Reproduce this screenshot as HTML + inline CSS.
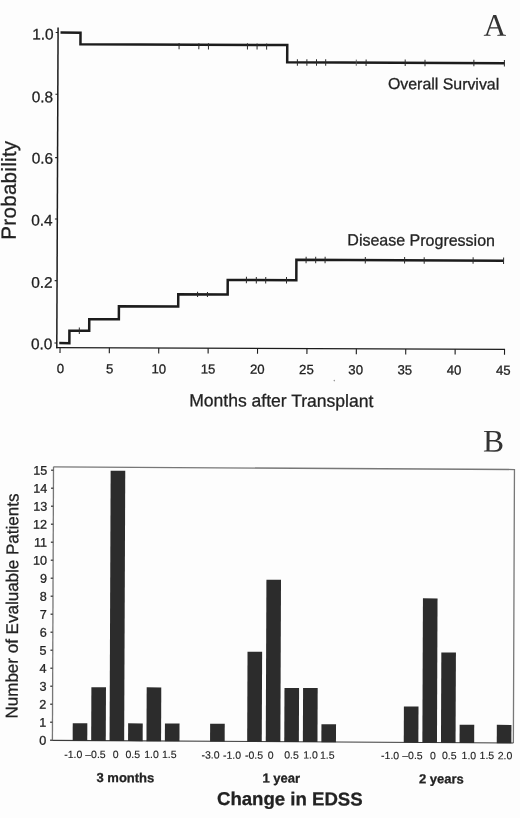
<!DOCTYPE html>
<html>
<head>
<meta charset="utf-8">
<title>Figure</title>
<style>
html,body{margin:0;padding:0;background:#fdfdfd;}
body{width:520px;height:818px;overflow:hidden;font-family:"Liberation Sans",sans-serif;}
svg{display:block;filter:grayscale(1) blur(0.35px);}
svg text{font-family:"Liberation Sans",sans-serif;stroke:#222;stroke-width:0.28px;}
svg text.sm{stroke-width:0.12px;}
svg text.sf{font-family:"Liberation Serif",serif;stroke:none;}
</style>
</head>
<body>
<svg width="520" height="818" viewBox="0 0 520 818">
<rect x="0" y="0" width="520" height="818" fill="#fdfdfd"/>
<g transform="rotate(0.23 260.0 409.0)">
<line x1="56.55" y1="28.2" x2="56.55" y2="349.09999999999997" stroke="#1c1c1c" stroke-width="1.5"/>
<line x1="55.849999999999994" y1="348.4" x2="504.8" y2="348.4" stroke="#1c1c1c" stroke-width="1.4"/>
<line x1="59.8" y1="348.4" x2="59.8" y2="353.8" stroke="#1c1c1c" stroke-width="1.1"/>
<line x1="109.1" y1="348.4" x2="109.1" y2="353.8" stroke="#1c1c1c" stroke-width="1.1"/>
<line x1="158.5" y1="348.4" x2="158.5" y2="353.8" stroke="#1c1c1c" stroke-width="1.1"/>
<line x1="207.9" y1="348.4" x2="207.9" y2="353.8" stroke="#1c1c1c" stroke-width="1.1"/>
<line x1="257.3" y1="348.4" x2="257.3" y2="353.8" stroke="#1c1c1c" stroke-width="1.1"/>
<line x1="306.7" y1="348.4" x2="306.7" y2="353.8" stroke="#1c1c1c" stroke-width="1.1"/>
<line x1="356.1" y1="348.4" x2="356.1" y2="353.8" stroke="#1c1c1c" stroke-width="1.1"/>
<line x1="405.5" y1="348.4" x2="405.5" y2="353.8" stroke="#1c1c1c" stroke-width="1.1"/>
<line x1="454.9" y1="348.4" x2="454.9" y2="353.8" stroke="#1c1c1c" stroke-width="1.1"/>
<line x1="504.3" y1="348.4" x2="504.3" y2="353.8" stroke="#1c1c1c" stroke-width="1.1"/>
<line x1="54.2" y1="343.8" x2="56.5" y2="343.8" stroke="#1c1c1c" stroke-width="1.1"/>
<line x1="54.2" y1="281.5" x2="56.5" y2="281.5" stroke="#1c1c1c" stroke-width="1.1"/>
<line x1="54.2" y1="219.8" x2="56.5" y2="219.8" stroke="#1c1c1c" stroke-width="1.1"/>
<line x1="54.2" y1="158.4" x2="56.5" y2="158.4" stroke="#1c1c1c" stroke-width="1.1"/>
<line x1="54.2" y1="95.1" x2="56.5" y2="95.1" stroke="#1c1c1c" stroke-width="1.1"/>
<line x1="54.2" y1="33.3" x2="56.5" y2="33.3" stroke="#1c1c1c" stroke-width="1.1"/>
<text x="52.2" y="350.1" font-size="15.4" text-anchor="end" fill="#222">0.0</text>
<text x="52.2" y="288.7" font-size="15.4" text-anchor="end" fill="#222">0.2</text>
<text x="51.9" y="226.3" font-size="15.4" text-anchor="end" fill="#222">0.4</text>
<text x="52.1" y="164.5" font-size="15.4" text-anchor="end" fill="#222">0.6</text>
<text x="51.9" y="103.1" font-size="15.4" text-anchor="end" fill="#222">0.8</text>
<text x="52.1" y="40.4" font-size="15.4" text-anchor="end" fill="#222">1.0</text>
<text x="60.4" y="373.8" font-size="13.2" text-anchor="middle" fill="#222">0</text>
<text x="109.5" y="373.8" font-size="13.2" text-anchor="middle" fill="#222">5</text>
<text x="158.7" y="373.8" font-size="13.2" text-anchor="middle" fill="#222">10</text>
<text x="207.9" y="373.8" font-size="13.2" text-anchor="middle" fill="#222">15</text>
<text x="257.1" y="373.8" font-size="13.2" text-anchor="middle" fill="#222">20</text>
<text x="306.3" y="373.8" font-size="13.2" text-anchor="middle" fill="#222">25</text>
<text x="355.5" y="373.8" font-size="13.2" text-anchor="middle" fill="#222">30</text>
<text x="404.7" y="373.8" font-size="13.2" text-anchor="middle" fill="#222">35</text>
<text x="453.9" y="373.8" font-size="13.2" text-anchor="middle" fill="#222">40</text>
<text x="503.1" y="373.8" font-size="13.2" text-anchor="middle" fill="#222">45</text>
<text x="281.3" y="406.5" font-size="17.55" text-anchor="middle" fill="#222">Months after Transplant</text>
<text transform="translate(15.0,191.1) rotate(-90)" font-size="20.6" letter-spacing="0.27" text-anchor="middle" fill="#222">Probability</text>
<text x="442.3" y="88.6" font-size="15.9" text-anchor="middle" fill="#222">Overall Survival</text>
<text x="420.5" y="245.0" font-size="16.0" text-anchor="middle" fill="#222">Disease Progression</text>
<text x="493.3" y="34.9" font-size="31.5" text-anchor="middle" fill="#333" class="sf">A</text>
<path d="M59.0,33.4 H79.0 V45.0 H285.8 V62.2 H503.3" fill="none" stroke="#1c1c1c" stroke-width="2.5" stroke-linejoin="miter"/>
<path d="M59.0,343.9 H69.1 V331.4 H88.9 V319.9 H118.5 V306.9 H177.8 V294.6 H227.2 V280.1 H295.8 V259.7 H503.0" fill="none" stroke="#1c1c1c" stroke-width="2.5" stroke-linejoin="miter"/>
<line x1="177.6" y1="43.4" x2="177.6" y2="49.6" stroke="#2a2a2a" stroke-width="1.0"/>
<line x1="197.4" y1="43.4" x2="197.4" y2="49.6" stroke="#2a2a2a" stroke-width="1.0"/>
<line x1="207.0" y1="43.4" x2="207.0" y2="49.6" stroke="#2a2a2a" stroke-width="1.0"/>
<line x1="246.0" y1="43.4" x2="246.0" y2="49.6" stroke="#2a2a2a" stroke-width="1.0"/>
<line x1="255.6" y1="43.4" x2="255.6" y2="49.6" stroke="#2a2a2a" stroke-width="1.0"/>
<line x1="265.2" y1="43.4" x2="265.2" y2="49.6" stroke="#2a2a2a" stroke-width="1.0"/>
<line x1="296.0" y1="59.0" x2="296.0" y2="65.5" stroke="#2a2a2a" stroke-width="1.0"/>
<line x1="305.5" y1="59.0" x2="305.5" y2="65.5" stroke="#2a2a2a" stroke-width="1.0"/>
<line x1="315.1" y1="59.0" x2="315.1" y2="65.5" stroke="#2a2a2a" stroke-width="1.0"/>
<line x1="324.3" y1="59.0" x2="324.3" y2="65.5" stroke="#2a2a2a" stroke-width="1.0"/>
<line x1="364.7" y1="59.0" x2="364.7" y2="65.5" stroke="#2a2a2a" stroke-width="1.0"/>
<line x1="403.8" y1="59.0" x2="403.8" y2="65.5" stroke="#2a2a2a" stroke-width="1.0"/>
<line x1="423.6" y1="59.0" x2="423.6" y2="65.5" stroke="#2a2a2a" stroke-width="1.0"/>
<line x1="472.5" y1="59.0" x2="472.5" y2="65.5" stroke="#2a2a2a" stroke-width="1.0"/>
<line x1="503.0" y1="59.0" x2="503.0" y2="65.5" stroke="#2a2a2a" stroke-width="1.0"/>
<line x1="79.0" y1="328.2" x2="79.0" y2="334.7" stroke="#2a2a2a" stroke-width="1.0"/>
<line x1="197.1" y1="292.1" x2="197.1" y2="297.2" stroke="#2a2a2a" stroke-width="1.0"/>
<line x1="207.0" y1="292.1" x2="207.0" y2="297.2" stroke="#2a2a2a" stroke-width="1.0"/>
<line x1="245.9" y1="276.9" x2="245.9" y2="283.4" stroke="#2a2a2a" stroke-width="1.0"/>
<line x1="255.8" y1="276.9" x2="255.8" y2="283.4" stroke="#2a2a2a" stroke-width="1.0"/>
<line x1="265.2" y1="276.9" x2="265.2" y2="283.4" stroke="#2a2a2a" stroke-width="1.0"/>
<line x1="286.0" y1="276.9" x2="286.0" y2="283.4" stroke="#2a2a2a" stroke-width="1.0"/>
<line x1="305.5" y1="256.5" x2="305.5" y2="263.0" stroke="#2a2a2a" stroke-width="1.0"/>
<line x1="315.1" y1="256.5" x2="315.1" y2="263.0" stroke="#2a2a2a" stroke-width="1.0"/>
<line x1="324.5" y1="256.5" x2="324.5" y2="263.0" stroke="#2a2a2a" stroke-width="1.0"/>
<line x1="364.7" y1="256.5" x2="364.7" y2="263.0" stroke="#2a2a2a" stroke-width="1.0"/>
<line x1="404.0" y1="256.5" x2="404.0" y2="263.0" stroke="#2a2a2a" stroke-width="1.0"/>
<line x1="423.6" y1="256.5" x2="423.6" y2="263.0" stroke="#2a2a2a" stroke-width="1.0"/>
<line x1="472.5" y1="256.5" x2="472.5" y2="263.0" stroke="#2a2a2a" stroke-width="1.0"/>
<line x1="503.0" y1="256.5" x2="503.0" y2="263.0" stroke="#2a2a2a" stroke-width="1.0"/>
<line x1="354.9" y1="59.2" x2="354.9" y2="65.4" stroke="#555" stroke-width="0.9"/>
<circle cx="334.2" cy="380.3" r="0.8" fill="#9a9a9a"/>
<polyline points="53.75,467.7 514.7,468.5 514.7,742.0" fill="none" stroke="#777" stroke-width="1.3"/>
<line x1="53.25" y1="741.2" x2="514.7" y2="742.0" stroke="#3c3c3c" stroke-width="1.1"/>
<line x1="53.75" y1="467.7" x2="53.75" y2="741.2" stroke="#777" stroke-width="1.3"/>
<line x1="51.4" y1="741.1" x2="53.8" y2="741.1" stroke="#555" stroke-width="1.3"/>
<text x="47.6" y="745.6" font-size="12.6" text-anchor="end" fill="#222">0</text>
<line x1="51.4" y1="723.1" x2="53.8" y2="723.1" stroke="#555" stroke-width="1.3"/>
<text x="47.6" y="727.6" font-size="12.6" text-anchor="end" fill="#222">1</text>
<line x1="51.4" y1="705.1" x2="53.8" y2="705.1" stroke="#555" stroke-width="1.3"/>
<text x="47.6" y="709.6" font-size="12.6" text-anchor="end" fill="#222">2</text>
<line x1="51.4" y1="687.1" x2="53.8" y2="687.1" stroke="#555" stroke-width="1.3"/>
<text x="47.6" y="691.6" font-size="12.6" text-anchor="end" fill="#222">3</text>
<line x1="51.4" y1="669.1" x2="53.8" y2="669.1" stroke="#555" stroke-width="1.3"/>
<text x="47.6" y="673.6" font-size="12.6" text-anchor="end" fill="#222">4</text>
<line x1="51.4" y1="651.1" x2="53.8" y2="651.1" stroke="#555" stroke-width="1.3"/>
<text x="47.6" y="655.6" font-size="12.6" text-anchor="end" fill="#222">5</text>
<line x1="51.4" y1="633.1" x2="53.8" y2="633.1" stroke="#555" stroke-width="1.3"/>
<text x="47.6" y="637.6" font-size="12.6" text-anchor="end" fill="#222">6</text>
<line x1="51.4" y1="615.1" x2="53.8" y2="615.1" stroke="#555" stroke-width="1.3"/>
<text x="47.6" y="619.6" font-size="12.6" text-anchor="end" fill="#222">7</text>
<line x1="51.4" y1="597.1" x2="53.8" y2="597.1" stroke="#555" stroke-width="1.3"/>
<text x="47.6" y="601.6" font-size="12.6" text-anchor="end" fill="#222">8</text>
<line x1="51.4" y1="579.1" x2="53.8" y2="579.1" stroke="#555" stroke-width="1.3"/>
<text x="47.6" y="583.6" font-size="12.6" text-anchor="end" fill="#222">9</text>
<line x1="51.4" y1="561.1" x2="53.8" y2="561.1" stroke="#555" stroke-width="1.3"/>
<text x="47.6" y="565.6" font-size="12.6" text-anchor="end" fill="#222">10</text>
<line x1="51.4" y1="543.1" x2="53.8" y2="543.1" stroke="#555" stroke-width="1.3"/>
<text x="47.6" y="547.6" font-size="12.6" text-anchor="end" fill="#222">11</text>
<line x1="51.4" y1="525.1" x2="53.8" y2="525.1" stroke="#555" stroke-width="1.3"/>
<text x="47.6" y="529.6" font-size="12.6" text-anchor="end" fill="#222">12</text>
<line x1="51.4" y1="507.1" x2="53.8" y2="507.1" stroke="#555" stroke-width="1.3"/>
<text x="47.6" y="511.6" font-size="12.6" text-anchor="end" fill="#222">13</text>
<line x1="51.4" y1="489.1" x2="53.8" y2="489.1" stroke="#555" stroke-width="1.3"/>
<text x="47.6" y="493.6" font-size="12.6" text-anchor="end" fill="#222">14</text>
<line x1="51.4" y1="471.1" x2="53.8" y2="471.1" stroke="#555" stroke-width="1.3"/>
<text x="47.6" y="475.6" font-size="12.6" text-anchor="end" fill="#222">15</text>
<rect x="74.0" y="723.9" width="14.6" height="17.6" fill="#2c2c2c"/>
<rect x="92.5" y="687.8" width="14.6" height="53.7" fill="#2c2c2c"/>
<rect x="110.9" y="471.4" width="14.6" height="270.1" fill="#2c2c2c"/>
<rect x="129.4" y="723.9" width="14.6" height="17.7" fill="#2c2c2c"/>
<rect x="147.8" y="687.8" width="14.6" height="53.8" fill="#2c2c2c"/>
<rect x="166.2" y="723.9" width="14.6" height="17.7" fill="#2c2c2c"/>
<rect x="211.4" y="723.9" width="14.6" height="17.8" fill="#2c2c2c"/>
<rect x="248.5" y="651.8" width="14.6" height="90.0" fill="#2c2c2c"/>
<rect x="267.1" y="579.6" width="14.6" height="162.2" fill="#2c2c2c"/>
<rect x="285.6" y="687.8" width="14.6" height="54.0" fill="#2c2c2c"/>
<rect x="304.2" y="687.8" width="14.6" height="54.0" fill="#2c2c2c"/>
<rect x="322.7" y="723.9" width="14.6" height="18.0" fill="#2c2c2c"/>
<rect x="405.1" y="705.8" width="14.6" height="36.2" fill="#2c2c2c"/>
<rect x="423.7" y="597.7" width="14.6" height="144.4" fill="#2c2c2c"/>
<rect x="442.3" y="651.8" width="14.6" height="90.3" fill="#2c2c2c"/>
<rect x="460.9" y="723.9" width="14.6" height="18.2" fill="#2c2c2c"/>
<rect x="498.1" y="723.9" width="14.6" height="18.3" fill="#2c2c2c"/>
<text x="74.7" y="758.8" font-size="10.5" text-anchor="middle" fill="#222" class="sm">-1.0</text>
<text x="96.9" y="758.7" font-size="10.5" text-anchor="middle" fill="#222" class="sm">–0.5</text>
<text x="117.1" y="758.6" font-size="10.5" text-anchor="middle" fill="#222" class="sm">0</text>
<text x="134.2" y="758.6" font-size="10.5" text-anchor="middle" fill="#222" class="sm">0.5</text>
<text x="152.9" y="758.5" font-size="10.5" text-anchor="middle" fill="#222" class="sm">1.0</text>
<text x="170.7" y="758.4" font-size="10.5" text-anchor="middle" fill="#222" class="sm">1.5</text>
<text x="211.9" y="758.8" font-size="10.5" text-anchor="middle" fill="#222" class="sm">-3.0</text>
<text x="233.4" y="758.8" font-size="10.5" text-anchor="middle" fill="#222" class="sm">-1.0</text>
<text x="255.4" y="758.7" font-size="10.5" text-anchor="middle" fill="#222" class="sm">-0.5</text>
<text x="272.2" y="758.6" font-size="10.5" text-anchor="middle" fill="#222" class="sm">0</text>
<text x="292.9" y="758.5" font-size="10.5" text-anchor="middle" fill="#222" class="sm">0.5</text>
<text x="311.9" y="758.4" font-size="10.5" text-anchor="middle" fill="#222" class="sm">1.0</text>
<text x="328.7" y="758.4" font-size="10.5" text-anchor="middle" fill="#222" class="sm">1.5</text>
<text x="391.5" y="758.6" font-size="10.5" text-anchor="middle" fill="#222" class="sm">-1.0</text>
<text x="413.9" y="758.5" font-size="10.5" text-anchor="middle" fill="#222" class="sm">–0.5</text>
<text x="434.3" y="758.5" font-size="10.5" text-anchor="middle" fill="#222" class="sm">0</text>
<text x="450.7" y="758.4" font-size="10.5" text-anchor="middle" fill="#222" class="sm">0.5</text>
<text x="470.3" y="758.3" font-size="10.5" text-anchor="middle" fill="#222" class="sm">1.0</text>
<text x="488.3" y="758.2" font-size="10.5" text-anchor="middle" fill="#222" class="sm">1.5</text>
<text x="506.4" y="758.2" font-size="10.5" text-anchor="middle" fill="#222" class="sm">2.0</text>
<text x="126.9" y="782.7" font-size="13" font-weight="bold" text-anchor="middle" fill="#222">3 months</text>
<text x="282.8" y="782.5" font-size="13" font-weight="bold" text-anchor="middle" fill="#222">1 year</text>
<text x="442.9" y="782.6" font-size="13" font-weight="bold" text-anchor="middle" fill="#222">2 years</text>
<text x="291.4" y="805.1" font-size="18.6" font-weight="bold" text-anchor="middle" fill="#222">Change in EDSS</text>
<text transform="translate(18.8,607.0) rotate(-90)" font-size="17" text-anchor="middle" fill="#222">Number of Evaluable Patients</text>
<text x="493.7" y="450.6" font-size="31.5" text-anchor="middle" fill="#333" class="sf">B</text>
</g>
</svg>
</body>
</html>
